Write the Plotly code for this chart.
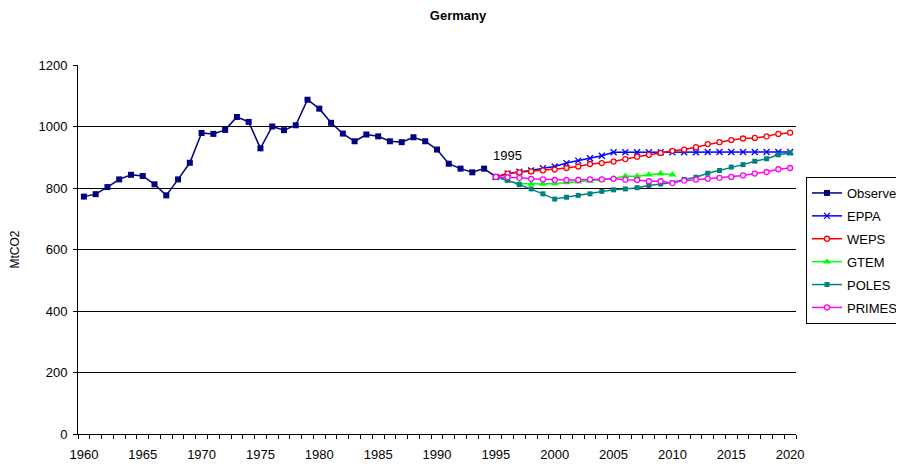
import plotly.graph_objects as go

obs_years = list(range(1960, 1996))
observed = [772, 780, 803, 828, 843, 839, 812, 776, 828, 882,
            979, 976, 989, 1031, 1015, 929, 1000, 988, 1004, 1087,
            1058, 1012, 977, 952, 974, 968, 952, 949, 965, 952,
            925, 879, 863, 851, 863, 836]

proj_years = list(range(1995, 2021))
eppa = [836, 847, 853, 857, 864, 870, 881, 889, 897, 905, 916, 916, 916,
        916, 916, 916, 916, 916, 917, 917, 917, 917, 917, 917, 917, 917]
weps = [836, 847, 851, 854, 857, 860, 865, 870, 878, 881, 886, 894, 902,
        908, 914, 921, 925, 933, 943, 949, 956, 961, 963, 968, 976, 980]
gtem_years = list(range(1995, 2011))
gtem = [836, 824, 815, 813, 813, 815, 818, 820, 823, 827, 832, 838, 838,
        843, 847, 843]
poles = [836, 825, 811, 797, 781, 764, 770, 776, 781, 789, 794, 797, 801,
         808, 813, 818, 828, 835, 848, 857, 868, 876, 887, 895, 908, 914]
primes = [836, 835, 833, 830, 828, 826, 826, 826, 828, 828, 830, 827, 826,
          822, 822, 816, 824, 827, 830, 833, 836, 841, 847, 852, 861, 865]

label_years = list(range(1960, 2021, 5))
y_ticks = [0, 200, 400, 600, 800, 1000, 1200]

FONT = "Liberation Sans, Arial, sans-serif"

# page body has an 8px default margin; the figure is sized to fill the rest
W, H = 896, 462
L, R, T, B = 70, 788, 57, 426

fig = go.Figure()

def add(name, x, y, color, symbol, size, fill=None, lw=1.5):
    fig.add_trace(go.Scatter(
        x=x, y=y, name=name, mode="lines+markers",
        legendgroup=name,
        line=dict(color=color, width=lw),
        marker=dict(symbol=symbol, size=size,
                    color=fill if fill else color,
                    line=dict(color=color, width=1.3 if (fill or "x" in symbol) else 0)),
    ))

add("Observed", obs_years, observed, "#000080", "square", 6)
add("EPPA", proj_years, eppa, "#0000FF", "x-thin", 6)
add("WEPS", proj_years, weps, "#FF0000", "circle", 5, fill="white")
add("GTEM", gtem_years, gtem, "#00FF00", "triangle-up", 7)
add("POLES", proj_years, poles, "#008080", "square", 5)
add("PRIMES", proj_years, primes, "#FF00FF", "circle", 5, fill="white")

fig.add_annotation(x=1996, y=907, text="1995", showarrow=False,
                   xanchor="center", yanchor="middle",
                   font=dict(family=FONT, size=13, color="black"))

minor_vals = [yr - 0.5 for yr in range(1960, 2022)]

fig.update_layout(
    width=W, height=H,
    margin=dict(l=L, r=W - R, t=T, b=H - B, autoexpand=False),
    paper_bgcolor="white", plot_bgcolor="white",
    font=dict(family=FONT, size=13, color="black"),
    title=dict(text="<b>Germany</b>", x=450 / W, xanchor="center",
               y=1 - 7 / H, yanchor="middle",
               font=dict(family=FONT, size=13, color="black")),
    showlegend=True,
    legend=dict(x=(798 - L) / (R - L), y=(B - 169) / (B - T),
                xanchor="left", yanchor="top",
                bgcolor="white", bordercolor="black", borderwidth=1,
                font=dict(family=FONT, size=13, color="black"),
                tracegroupgap=3, itemwidth=30),
    xaxis=dict(range=[1959.5, 2020.5], tickmode="array", tickvals=label_years,
               ticks="", showgrid=False, showline=True, linecolor="black",
               linewidth=1, zeroline=False, tickfont=dict(size=13),
               ticklabelstandoff=8, automargin=False,
               minor=dict(tickmode="array", tickvals=minor_vals, ticks="outside",
                          ticklen=4, tickcolor="black", showgrid=False)),
    yaxis=dict(range=[0, 1200], tickmode="array", tickvals=y_ticks,
               ticks="outside", ticklen=4, tickcolor="black",
               showgrid=True, gridcolor="black", gridwidth=1,
               showline=True, linecolor="black", linewidth=1, zeroline=False,
               ticklabelstandoff=3, automargin=False,
               title=dict(text="MtCO2", font=dict(size=12), standoff=30),
               tickfont=dict(size=13)),
)

fig.write_html("out.html")
